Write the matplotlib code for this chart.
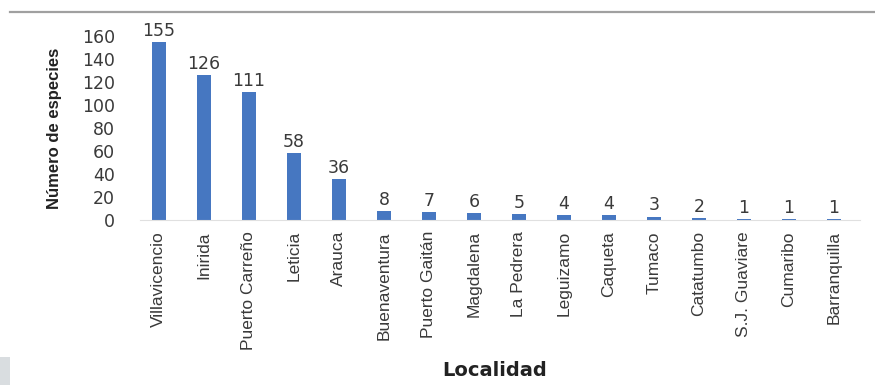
import matplotlib.pyplot as plt
from matplotlib.lines import Line2D
from matplotlib.patches import Rectangle

plt.rcParams['font.family'] = ['DejaVu Sans']

localidades = ['Villavicencio', 'Inirida', 'Puerto Carreño', 'Leticia', 'Arauca',
               'Buenaventura', 'Puerto Gaitán', 'Magdalena', 'La Pedrera', 'Leguizamo',
               'Caqueta', 'Tumaco', 'Catatumbo', 'S.J. Guaviare', 'Cumaribo', 'Barranquilla']
especies = [155, 126, 111, 58, 36, 8, 7, 6, 5, 4, 4, 3, 2, 1, 1, 1]
yticks = [0, 20, 40, 60, 80, 100, 120, 140, 160]

W, H = 875, 385
txt = '#3a3a3a'

fig = plt.figure(figsize=(W / 100, H / 100), dpi=100)
ax = fig.add_axes([140 / W, 1 - 220 / H, 720 / W, 184 / H])

x = list(range(len(localidades)))
ax.bar(x, especies, width=0.31, color='#4677c1')
for xi, v in zip(x, especies):
    ax.annotate(str(v), (xi, v), xytext=(0, 1.5), textcoords='offset points',
                ha='center', va='bottom', fontsize=12.5, color=txt)

ax.set_xlim(-0.42, len(localidades) - 0.42)
ax.set_ylim(0, 160)
ax.set_yticks(yticks)
ax.set_xticks(x)
ax.set_xticklabels(localidades, rotation=90, fontsize=12.5, color=txt,
                   family='Liberation Sans')
ax.tick_params(axis='y', labelsize=12.5, colors=txt, length=0, pad=18)
ax.tick_params(axis='x', length=0, pad=8)
for s in ['top', 'right', 'left']:
    ax.spines[s].set_visible(False)
ax.spines['bottom'].set_color('#e0e0e0')

fig.text(55 / W, 1 - 128 / H, 'Número de especies', rotation=90, fontsize=12,
         fontweight='bold', family='Liberation Sans', color='#222222',
         ha='center', va='center')
fig.text(495 / W, 1 - 370 / H, 'Localidad', fontsize=14, fontweight='bold',
         color='#222222', ha='center', va='center')

# grey rule along the top edge and the small block in the lower left corner
fig.add_artist(Line2D([10 / W, 1], [1 - 12 / H, 1 - 12 / H], color='#a0a0a0', lw=1.6))
fig.add_artist(Rectangle((0, 0), 10 / W, 28 / H, transform=fig.transFigure,
                         color='#d9dde0', lw=0))

fig.savefig('out.png', dpi=100)
